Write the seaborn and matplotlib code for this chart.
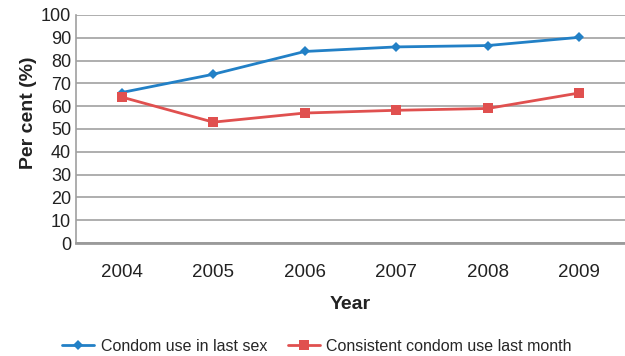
import matplotlib
matplotlib.use("Agg")
import matplotlib.pyplot as plt
import seaborn as sns
import pandas as pd

years = [2004, 2005, 2006, 2007, 2008, 2009]
last_sex = [66, 74, 84, 86, 86.6, 90.2]
last_month = [64, 53, 57, 58.2, 59, 65.8]
series_names = ["Condom use in last sex", "Consistent condom use last month"]

sns.set_theme(style="white")
plt.rcParams["font.family"] = ["Liberation Sans", "DejaVu Sans"]

df = pd.DataFrame({
    "Year": years * 2,
    "Per cent": last_sex + last_month,
    "Series": [series_names[0]] * len(years) + [series_names[1]] * len(years),
})

fig = plt.figure(figsize=(6.25, 3.56), dpi=100)
ax = fig.add_axes([0.1216, 0.3174, 0.8784, 0.6405])

palette = {series_names[0]: "#2280c6", series_names[1]: "#e0504f"}
markers = {series_names[0]: "D", series_names[1]: "s"}
sizes = {series_names[0]: 5.5, series_names[1]: 7}

for name in series_names:
    sub = df[df["Series"] == name]
    sns.lineplot(data=sub, x="Year", y="Per cent", ax=ax, color=palette[name],
                 marker=markers[name], markersize=sizes[name],
                 markeredgewidth=0, linewidth=2, label=name, legend=False)

ax.set_xlim(2003.5, 2009.5)
ax.set_ylim(0, 100)
ax.set_yticks(range(0, 101, 10))
ax.set_xticks(years)
ax.set_xticklabels([str(y) for y in years])
ax.yaxis.grid(True, color="#a8a8a8", linewidth=1.3)
ax.xaxis.grid(False)
ax.set_axisbelow(True)

for side in ["top", "right"]:
    ax.spines[side].set_visible(False)
ax.spines["left"].set_color("#a0a0a0")
ax.spines["left"].set_linewidth(1.2)
ax.spines["bottom"].set_color("#9a9a9a")
ax.spines["bottom"].set_linewidth(2)

ax.tick_params(axis="both", length=0, colors="#222222")
ax.tick_params(axis="x", pad=15, labelsize=13.5)
ax.tick_params(axis="y", pad=3.5, labelsize=13)

ax.set_xlabel("Year", fontsize=14, fontweight="bold", color="#222222", labelpad=11)
ax.set_ylabel("Per cent (%)", fontsize=14, fontweight="bold", color="#222222")
ax.yaxis.set_label_coords(-0.071, 0.572)

handles, labels = ax.get_legend_handles_labels()
fig.legend(handles, labels, loc="center", bbox_to_anchor=(0.507, 0.028),
           ncol=2, frameon=False, fontsize=11.5, handlelength=2.0,
           columnspacing=1.3, handletextpad=0.4, borderaxespad=0, borderpad=0)

fig.savefig("out.png", dpi=100)
